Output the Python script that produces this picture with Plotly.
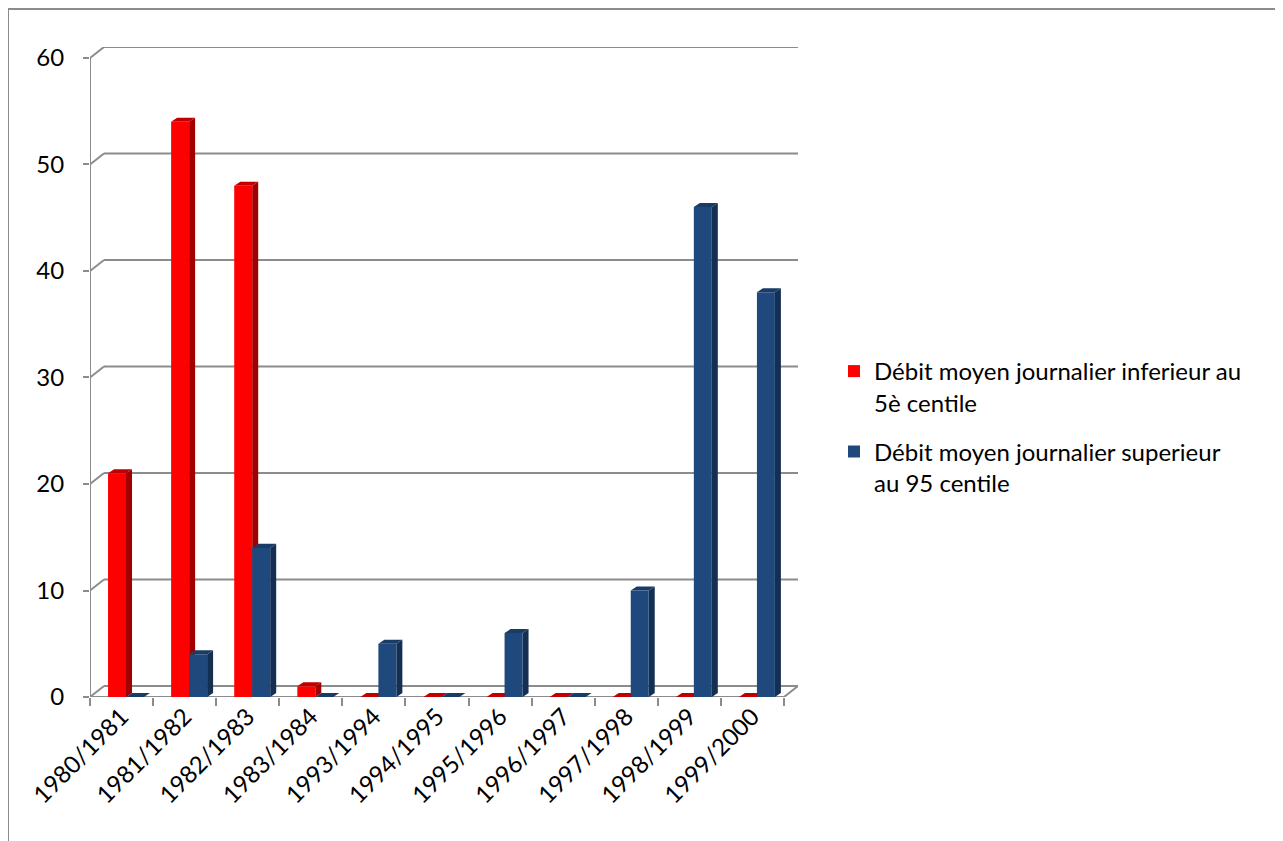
import plotly.graph_objects as go
import numpy as np

categories = ["1980/1981", "1981/1982", "1982/1983", "1983/1984", "1993/1994", "1994/1995",
              "1995/1996", "1996/1997", "1997/1998", "1998/1999", "1999/2000"]
low_values = [21, 54, 48, 1, 0, 0, 0, 0, 0, 0, 0]
high_values = [0, 4, 14, 0, 5, 0, 6, 0, 10, 46, 38]
series_names = ["Débit moyen journalier inferieur au<br>5è centile",
                "Débit moyen journalier superieur<br>au 95 centile"]
y_ticks = [0, 10, 20, 30, 40, 50, 60]

FONT = "Lato"
FS = 24
PAGE_OFF = 8  # browser body margin
W, H = 1283 - PAGE_OFF, 841 - PAGE_OFF
PL, PR, PT, PB = 90 - PAGE_OFF, 798 - PAGE_OFF, 47 - PAGE_OFF, 697 - PAGE_OFF
ML, MR, MT, MB = PL, W - PR, PT, H - PB
PW, PH = PR - PL, PB - PT

n = len(categories)
DX, DY = 0.222, 1.03          # back-wall depth offset (data units)
BDX, BDY = 0.095, 0.38        # bar depth offset
BW = 0.285
red_off, blue_off = 0.286, 0.571

styles = [
    dict(front="#FF0000", side="#A00000", top="#C00000"),
    dict(front="#1F497D", side="#142F52", top="#193C66"),
]

fig = go.Figure()
shapes = []
grid_col = "#8C8C8C"

# back wall gridlines + connectors
for v in y_ticks:
    shapes.append(dict(type="line", xref="x", yref="y", x0=DX, x1=n + DX, y0=v + DY, y1=v + DY,
                       line=dict(color=grid_col, width=2), layer="below"))
    shapes.append(dict(type="line", xref="x", yref="y", x0=0, x1=DX, y0=v, y1=v + DY,
                       line=dict(color=grid_col, width=2), layer="below"))
# front y axis line
shapes.append(dict(type="line", xref="x", yref="y", x0=0, x1=0, y0=0, y1=max(y_ticks),
                   line=dict(color=grid_col, width=2), layer="below"))
# floor
shapes.append(dict(type="line", xref="x", yref="y", x0=0, x1=n, y0=0, y1=0,
                   line=dict(color=grid_col, width=2), layer="below"))
shapes.append(dict(type="line", xref="x", yref="y", x0=n, x1=n + DX, y0=0, y1=DY,
                   line=dict(color=grid_col, width=2), layer="below"))

def faces(values, off, st):
    out = []
    for k, v in enumerate(values):
        x0 = k + off
        x1 = x0 + BW
        if v > 0:
            out.append(dict(type="path", xref="x", yref="y", layer="below",
                            path=f"M{x1},{0} L{x1+BDX},{BDY} L{x1+BDX},{v+BDY} L{x1},{v} Z",
                            fillcolor=st["side"], line=dict(width=0)))
        out.append(dict(type="path", xref="x", yref="y", layer="below",
                        path=f"M{x0},{v} L{x0+BDX},{v+BDY} L{x1+BDX},{v+BDY} L{x1},{v} Z",
                        fillcolor=st["top"], line=dict(width=0)))
    return out

shapes += faces(low_values, red_off, styles[0])
shapes += faces(high_values, blue_off, styles[1])

# chart border (page pixels 8..1280 x 9..beyond bottom)
shapes.append(dict(type="rect", xref="paper", yref="paper",
                   x0=(8 - PAGE_OFF - PL) / PW, x1=(1280 - PAGE_OFF - PL) / PW,
                   y0=(PB - (H + 10)) / PH, y1=(PB - (9 - PAGE_OFF)) / PH,
                   line=dict(color="#8C8C8C", width=2), fillcolor="rgba(0,0,0,0)", layer="below"))

xs = np.arange(n)
fig.add_trace(go.Bar(x=xs + red_off + BW / 2, y=low_values, width=BW, name=series_names[0],
                     legendgroup="low",
                     marker=dict(color=styles[0]["front"], line=dict(width=0))))
fig.add_trace(go.Bar(x=xs + blue_off + BW / 2, y=high_values, width=BW, name=series_names[1],
                     legendgroup="high",
                     marker=dict(color=styles[1]["front"], line=dict(width=0))))

fig.update_layout(
    width=W, height=H,
    margin=dict(l=ML, r=MR, t=MT, b=MB),
    paper_bgcolor="white", plot_bgcolor="white",
    barmode="overlay",
    font=dict(family=FONT, size=FS, color="#000000"),
    shapes=shapes,
    showlegend=True,
    legend=dict(x=(834 - PAGE_OFF - PL) / PW, xanchor="left",
                y=(PB - (349 - PAGE_OFF)) / PH, yanchor="top",
                valign="top", tracegroupgap=15, itemwidth=30,
                font=dict(family=FONT, size=FS),
                bgcolor="rgba(0,0,0,0)"),
    xaxis=dict(range=[0, n + DX], tickvals=list(xs + 0.5), ticktext=categories,
               tickangle=-45, ticks="", showgrid=False, zeroline=False, showline=False,
               tickfont=dict(family=FONT, size=FS),
               minor=dict(tickvals=list(range(n + 1)), ticks="outside", ticklen=8,
                          tickcolor=grid_col, tickwidth=2, showgrid=False)),
    yaxis=dict(range=[0, max(y_ticks) + DY], tickvals=y_ticks, ticks="outside", ticklen=6,
               tickcolor=grid_col, tickwidth=2, showgrid=False, zeroline=False, showline=False,
               ticklabelstandoff=14, tickfont=dict(family=FONT, size=FS)),
)

fig.write_html("out.html")
